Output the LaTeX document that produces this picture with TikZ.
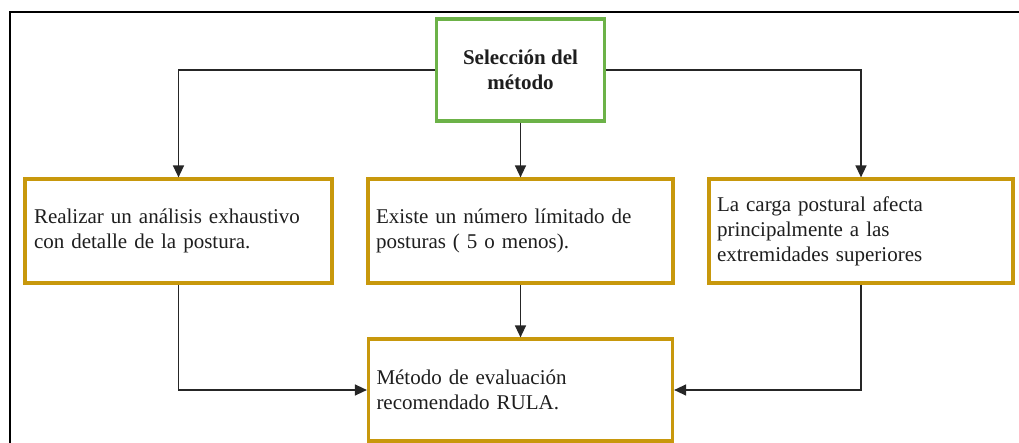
\documentclass[tikz,border=0pt]{standalone}
\usepackage{fontspec}
\setmainfont{Liberation Serif}
\usetikzlibrary{arrows.meta}
\definecolor{boxgold}{RGB}{200,152,12}
\definecolor{boxgreen}{RGB}{108,178,72}
\definecolor{txt}{RGB}{30,30,30}
\tikzset{
  gbox/.style={draw=boxgold, line width=3.2pt, rectangle, fill=white, inner sep=0pt,
    minimum height=104pt, align=left, text=txt, font=\fontsize{21}{25}\selectfont},
  titlebox/.style={draw=boxgreen, line width=3.2pt, rectangle, fill=white, inner sep=0pt,
    minimum width=168pt, minimum height=102pt, align=center, text=txt,
    font=\fontsize{21}{25}\selectfont\bfseries},
  conn/.style={draw=black!85, line width=1.4pt, -{Triangle[length=12pt,width=11pt]}},
}
\begin{document}
\begin{tikzpicture}[x=1pt,y=-1pt]
\useasboundingbox (0,0) rectangle (1019,443);
\draw[line width=2.2pt, black] (10,443) -- (10,12) -- (1019,12);

\node[titlebox] (top) at (520.5,70) {Selección del\\método};

\node[gbox, minimum width=307pt, text width=289pt] (left) at (178.5,231)
  {Realizar un análisis exhaustivo\\con detalle de la postura.};
\node[gbox, minimum width=305pt, text width=289pt] (mid) at (520.5,231)
  {Existe un número límitado de\\posturas ( 5 o menos).};
\node[gbox, minimum width=304pt, text width=288pt] (right) at (861,231)
  {La carga postural afecta\\principalmente a las\\extremidades superiores};
\node[gbox, minimum width=304pt, minimum height=102pt, text width=288pt] (bottom) at (520.5,390)
  {Método de evaluación\\recomendado RULA.};

\draw[conn] (top.west) -| (left.north);
\draw[conn] (top.south) -- (mid.north);
\draw[conn] (top.east) -| (right.north);
\draw[conn] (mid.south) -- (bottom.north);
\draw[conn] (left.south) |- (bottom.west);
\draw[conn] (right.south) |- (bottom.east);
\end{tikzpicture}
\end{document}
